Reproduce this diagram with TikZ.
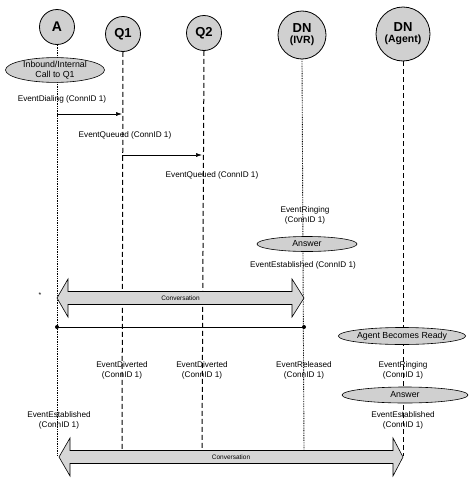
\documentclass[tikz,border=0pt]{standalone}
\usepackage{fontspec}
\setmainfont{Liberation Sans}
\usetikzlibrary{shapes.geometric,calc,arrows.meta}
\definecolor{objgray}{RGB}{208,208,208}
\definecolor{arrgray}{RGB}{214,214,214}
\begin{document}
\begin{tikzpicture}[x=1pt,y=-1pt,
  obj/.style={circle,draw=black,line width=0.8pt,fill=objgray,inner sep=0pt,font=\bfseries},
  act/.style={ellipse,draw=black,line width=0.6pt,fill=objgray,inner sep=0pt,font=\fontsize{8.8}{9.5}\selectfont,align=center},
  lbl/.style={inner sep=0pt,font=\fontsize{8.2}{10}\selectfont,align=center},
  dotline/.style={line width=0.9pt,dash pattern=on 0.8pt off 0.9pt},
  dashline/.style={line width=1pt,dash pattern=on 5pt off 3pt},
  msg/.style={line width=0.6pt,-{Latex[length=6pt,width=4pt]}},
  conv/.style={draw=black,line width=0.6pt,fill=arrgray},
  convtxt/.style={inner sep=0pt,font=\fontsize{6.5}{7}\selectfont}]
\useasboundingbox (0,0) rectangle (471,482);
% objects
\node[obj,minimum size=35pt,font=\bfseries\fontsize{14}{14}\selectfont] (A) at (57,27) {A};
\node[obj,minimum size=35pt,font=\bfseries\fontsize{13}{13}\selectfont] (Q1) at (123,34) {Q1};
\node[obj,minimum size=35pt,font=\bfseries\fontsize{13}{13}\selectfont] (Q2) at (204,33) {Q2};
\node[obj,minimum size=48pt,align=center] (IVR) at (302,35) {{\fontsize{13}{13}\selectfont DN}\\[-1pt]{\fontsize{10.5}{11}\selectfont (IVR)}};
\node[obj,minimum size=54pt,align=center] (AG) at (403,34) {{\fontsize{13}{13}\selectfont DN}\\[-1pt]{\fontsize{10.5}{11}\selectfont (Agent)}};
% lifeline ends
\coordinate (Aend) at (57,455);
\coordinate (Q1end) at (122,451);
\coordinate (Q2end) at (202,451);
\coordinate (IVRend) at (304,451);
\coordinate (AGend) at (403,456);
\draw[dotline] (A.south) -- (Aend);
\draw[dashline] (Q1.south) -- (Q1end);
\draw[dashline] (Q2.south) -- (Q2end);
\draw[dotline] (IVR.south) -- (IVRend);
\draw[dashline] (AG.south) -- (AGend);
% actions
\node[act,minimum width=99pt,minimum height=23pt] (call) at (55,70) {Inbound/Internal\\Call to Q1};
\node[act,minimum width=100pt,minimum height=15pt] (ans1) at (307,244) {Answer};
\node[act,minimum width=122pt,minimum height=17pt] (ready) at (402,336) {Agent Becomes Ready};
\node[act,minimum width=126pt,minimum height=16pt] (ans2) at (405,395) {Answer};
% messages
\coordinate (m1s) at (57,114);
\coordinate (m1e) at (122,114);
\draw[msg] (m1s) -- (m1e);
\coordinate (m2s) at (122,155);
\coordinate (m2e) at (202,155);
\draw[msg] (m2s) -- (m2e);
% labels
\node[lbl] (l1) at (62,99) {EventDialing (ConnID 1)};
\node[lbl] (l2) at (125,135) {EventQueued (ConnID 1)};
\node[lbl] (l3) at (212,175) {EventQueued (ConnID 1)};
\node[lbl] (l4) at (305,215) {EventRinging\\(ConnID 1)};
\node[lbl] (l5) at (303,265) {EventEstablished (ConnID 1)};
\node[lbl,font=\fontsize{7}{7}\selectfont] (star) at (40,295) {*};
\node[lbl] (l6) at (122,370) {EventDiverted\\(ConnID 1)};
\node[lbl] (l7) at (202,370) {EventDiverted\\(ConnID 1)};
\node[lbl] (l8) at (304,370) {EventReleased\\(ConnID 1)};
\node[lbl] (l9) at (403,370) {EventRinging\\(ConnID 1)};
\node[lbl] (l10) at (403,420) {EventEstablished\\(ConnID 1)};
\node[lbl] (l11) at (59,420) {EventEstablished\\(ConnID 1)};
% conversation 1
\coordinate (c1l) at (57,298);
\coordinate (c1r) at (304,298);
\draw[conv] (c1l) -- ($(c1l)+(11,-19)$) -- ($(c1l)+(11,-6.5)$) -- ($(c1r)+(-12,-6.5)$) -- ($(c1r)+(-12,-19)$) -- (c1r)
  -- ($(c1r)+(-12,19)$) -- ($(c1r)+(-12,6.5)$) -- ($(c1l)+(11,6.5)$) -- ($(c1l)+(11,19)$) -- cycle;
\node[convtxt] (ct1) at ($(c1l)!0.5!(c1r)$) {Conversation};
% release line
\coordinate (r1) at (57,327);
\coordinate (r2) at (304,327);
\draw[line width=0.6pt] (r1) -- (r2);
\fill (r1) circle (2pt);
\fill (r2) circle (2pt);
% conversation 2
\coordinate (c2l) at (59,457);
\coordinate (c2r) at (403,457);
\draw[conv] (c2l) -- ($(c2l)+(11,-19)$) -- ($(c2l)+(11,-6.5)$) -- ($(c2r)+(-10,-6.5)$) -- ($(c2r)+(-10,-19)$) -- (c2r)
  -- ($(c2r)+(-10,19)$) -- ($(c2r)+(-10,6.5)$) -- ($(c2l)+(11,6.5)$) -- ($(c2l)+(11,19)$) -- cycle;
\node[convtxt] (ct2) at ($(c2l)!0.5!(c2r)$) {Conversation};
\end{tikzpicture}
\end{document}
